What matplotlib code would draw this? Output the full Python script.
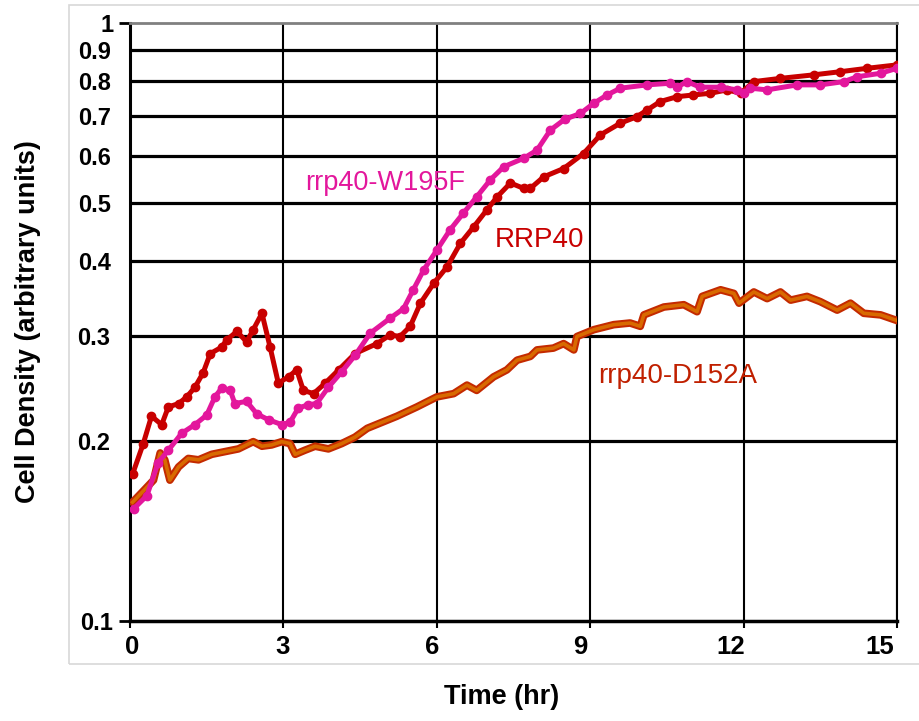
import matplotlib
matplotlib.use("Agg")
import matplotlib.pyplot as plt
from matplotlib.ticker import FixedLocator, FixedFormatter, NullFormatter
from matplotlib.patches import Rectangle

plt.rcParams['font.family'] = ['Liberation Sans', 'DejaVu Sans']

# time (hr) and cell density
t_rrp = [0.05, 0.26, 0.42, 0.62, 0.75, 0.95, 1.11, 1.27, 1.43, 1.57, 1.79, 1.89, 2.09, 2.28, 2.41,
         2.58, 2.74, 2.90, 3.10, 3.26, 3.39, 3.59, 3.82, 4.08, 4.40, 4.83, 5.09, 5.28, 5.48, 5.68,
         5.94, 6.20, 6.46, 6.72, 6.98, 7.18, 7.44, 7.70, 7.83, 8.09, 8.48, 8.87, 9.20, 9.59, 9.91,
         10.11, 10.37, 10.70, 11.02, 11.35, 11.68, 11.94, 12.20, 12.72, 13.37, 13.89, 14.42, 15.00]
y_rrp = [0.176, 0.198, 0.220, 0.213, 0.228, 0.231, 0.237, 0.246, 0.260, 0.280, 0.287, 0.295, 0.305, 0.293, 0.307,
         0.327, 0.287, 0.250, 0.256, 0.263, 0.243, 0.240, 0.250, 0.263, 0.280, 0.291, 0.301, 0.299, 0.311, 0.340,
         0.367, 0.391, 0.428, 0.456, 0.487, 0.512, 0.540, 0.529, 0.529, 0.553, 0.571, 0.605, 0.650, 0.680, 0.697,
         0.715, 0.739, 0.753, 0.758, 0.763, 0.773, 0.763, 0.798, 0.808, 0.819, 0.829, 0.840, 0.851]

t_w195f = [0.07, 0.33, 0.55, 0.75, 1.01, 1.27, 1.50, 1.66, 1.79, 1.96, 2.05, 2.28, 2.48, 2.71, 2.97,
           3.13, 3.29, 3.49, 3.65, 3.88, 4.14, 4.40, 4.70, 5.09, 5.35, 5.54, 5.74, 6.00, 6.26, 6.52,
           6.78, 7.05, 7.31, 7.70, 7.96, 8.22, 8.50, 8.81, 9.07, 9.33, 9.59, 10.11, 10.57, 10.70, 10.89,
           11.15, 11.55, 11.87, 12.00, 12.13, 12.46, 13.05, 13.50, 13.96, 14.22, 14.68, 15.00]
y_w195f = [0.154, 0.162, 0.184, 0.193, 0.206, 0.213, 0.221, 0.237, 0.245, 0.243, 0.231, 0.233, 0.222, 0.217, 0.213,
           0.215, 0.227, 0.230, 0.231, 0.246, 0.261, 0.278, 0.303, 0.321, 0.333, 0.358, 0.386, 0.417, 0.451, 0.481,
           0.512, 0.547, 0.575, 0.594, 0.613, 0.662, 0.690, 0.706, 0.734, 0.758, 0.778, 0.788, 0.793, 0.781, 0.798,
           0.781, 0.781, 0.773, 0.763, 0.778, 0.773, 0.788, 0.788, 0.798, 0.813, 0.824, 0.840]

t_d152a = [0.05, 0.29, 0.46, 0.59, 0.68, 0.78, 0.95, 1.14, 1.34, 1.60, 1.86, 2.12, 2.41, 2.58, 2.77,
           2.97, 3.13, 3.23, 3.42, 3.62, 3.88, 4.14, 4.40, 4.64, 5.22, 5.61, 6.00, 6.33, 6.59, 6.78,
           7.11, 7.37, 7.57, 7.83, 7.96, 8.28, 8.48, 8.68, 8.74, 9.07, 9.46, 9.78, 9.98, 10.05, 10.44,
           10.83, 11.09, 11.19, 11.55, 11.81, 11.91, 12.20, 12.46, 12.72, 12.92, 13.24, 13.50, 13.83, 14.09, 14.35,
           14.68, 15.00]
y_d152a = [0.158, 0.166, 0.172, 0.191, 0.186, 0.172, 0.181, 0.187, 0.186, 0.190, 0.192, 0.194, 0.1995, 0.196, 0.197,
           0.1995, 0.198, 0.190, 0.193, 0.196, 0.194, 0.198, 0.203, 0.210, 0.220, 0.228, 0.237, 0.240, 0.248, 0.243,
           0.256, 0.263, 0.273, 0.277, 0.284, 0.286, 0.291, 0.284, 0.299, 0.307, 0.313, 0.315, 0.311, 0.325, 0.335,
           0.338, 0.329, 0.349, 0.358, 0.353, 0.340, 0.355, 0.346, 0.355, 0.344, 0.349, 0.342, 0.331, 0.340, 0.327,
           0.325, 0.318]

x_ticks = [0, 3, 6, 9, 12, 15]
y_major = [0.1, 1]
y_minor = [0.2, 0.3, 0.4, 0.5, 0.6, 0.7, 0.8, 0.9]

RED = '#c80000'
PINK = '#e3179c'
ORANGE = '#d86a00'
ORANGE_EDGE = '#c42a00'

fig = plt.figure(figsize=(9.2, 7.21), dpi=100)
# light grey frame around the plot region
fig.patches.append(Rectangle((69 / 920, 1 - 664 / 721), 1.0, 659 / 721, transform=fig.transFigure,
                             fill=False, edgecolor='#d8d8d8', lw=1.2))
ax = fig.add_axes([130 / 920, 1 - 621 / 721, 767 / 920, 598 / 721])

ax.set_yscale('log')
ax.set_xlim(0, 15)
ax.set_ylim(0.1, 1)

ax.yaxis.set_major_locator(FixedLocator(y_major))
ax.yaxis.set_major_formatter(FixedFormatter(['0.1', '1']))
ax.yaxis.set_minor_locator(FixedLocator(y_minor))
ax.yaxis.set_minor_formatter(FixedFormatter([str(v) for v in y_minor]))
ax.set_xticks(x_ticks)
ax.xaxis.set_major_formatter(NullFormatter())

# x labels sit a little left of their ticks in the original, more so to the right
shifts = [2, -1, -5, -10, -13, -17]
for v, dx in zip(x_ticks, shifts):
    ax.annotate(str(v), xy=(v, 0), xycoords=('data', 'axes fraction'), xytext=(dx, -14),
                textcoords='offset pixels', ha='center', va='top', fontsize=18.5, fontweight='bold')

ax.set_axisbelow(True)
ax.yaxis.grid(True, which='minor', color='black', lw=2.3)
ax.xaxis.grid(True, which='major', color='black', lw=1.5)

ax.tick_params(axis='y', which='major', direction='out', length=8, width=2, labelsize=17, pad=4)
ax.tick_params(axis='y', which='minor', length=0, labelsize=17, pad=14)
ax.tick_params(axis='x', direction='out', length=5, width=1.5)
for lab in ax.get_yticklabels() + ax.get_yticklabels(minor=True):
    lab.set_fontweight('bold')

ax.spines['left'].set_linewidth(2.2)
ax.spines['bottom'].set_linewidth(2.5)
ax.spines['right'].set_linewidth(1.5)
ax.spines['top'].set_color('#808080')
ax.spines['top'].set_linewidth(2)

# series
ax.plot(t_d152a, y_d152a, color=ORANGE_EDGE, lw=5.5, solid_joinstyle='round', zorder=3)
ax.plot(t_d152a, y_d152a, color=ORANGE, lw=2.6, solid_joinstyle='round', zorder=3)
ax.plot(t_rrp, y_rrp, color=RED, lw=3.6, marker='o', ms=6, mec=RED, solid_joinstyle='round', zorder=4)
ax.plot(t_w195f, y_w195f, color=PINK, lw=3.6, marker='o', ms=6, mec=PINK, solid_joinstyle='round', zorder=5)

ax.text(3.42, 0.526, 'rrp40-W195F', color=PINK, fontsize=19.5, ha='left', va='baseline')
ax.text(7.14, 0.422, 'RRP40', color=RED, fontsize=20, ha='left', va='baseline')
ax.text(9.16, 0.250, 'rrp40-D152A', color='#c02000', fontsize=20, ha='left', va='baseline')

fig.text(502 / 920, 1 - 697 / 721, 'Time (hr)', fontsize=19.5, fontweight='bold', ha='center', va='center')
fig.text(28 / 920, 1 - 322 / 721, 'Cell Density (arbitrary units)', fontsize=19.5, fontweight='bold',
         rotation=90, ha='center', va='center')

fig.savefig('out.png', dpi=100)
